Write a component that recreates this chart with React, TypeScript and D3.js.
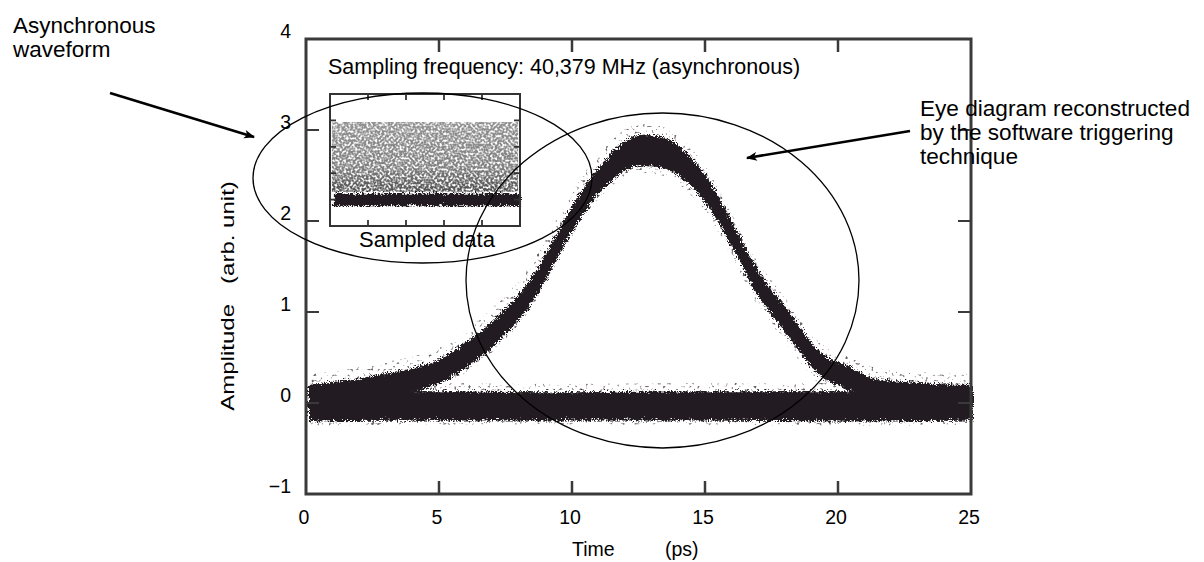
import React from "react";
import * as d3 from "d3";

// ---- data ----
const timeTicks = [0, 5, 10, 15, 20, 25];
const ampTicks = [-1, 0, 1, 2, 3, 4];

// eye-diagram pulse trace: time (ps), centre amplitude, half thickness of the scatter cloud
const pulseTime = [0, 1, 2.3, 3.5, 4.8, 6.0, 7.3, 8.5, 9.2, 10.0, 11.3, 12.5, 13.4, 14.2, 15.1, 15.9, 16.8, 18.1, 19.3, 20.3, 21.2, 23.1, 25];
const pulseCentre = [0.09, 0.12, 0.18, 0.25, 0.35, 0.56, 0.88, 1.3, 1.66, 2.08, 2.58, 2.8, 2.77, 2.62, 2.31, 1.9, 1.4, 0.88, 0.44, 0.3, 0.17, 0.11, 0.09];
const pulseHalf = [0.13, 0.13, 0.13, 0.13, 0.13, 0.14, 0.14, 0.14, 0.14, 0.14, 0.15, 0.17, 0.17, 0.16, 0.15, 0.14, 0.14, 0.14, 0.13, 0.13, 0.13, 0.13, 0.13];

// zero-level ("space") band of the eye diagram
const baseTime = [0, 5, 10, 15, 20, 25];
const baseUpper = [0.16, 0.15, 0.14, 0.15, 0.15, 0.16];
const baseLower = [-0.18, -0.17, -0.17, -0.17, -0.18, -0.17];

// inset: asynchronously sampled data (own 0..5 scale)
const insetTicks = [1, 2, 3, 4];
const insetNoiseTop = 3.94;
const insetNoiseBottom = 1.3;
const insetFloorTop = 1.3;
const insetFloorBottom = 0.82;

const W = 1204;
const H = 562;
const FONT = "'Liberation Sans', Arial, Helvetica, sans-serif";
const INK = "#231f20";

export default function App() {
  const x = d3.scaleLinear().domain([0, 25]).range([306, 971]);
  const y = d3.scaleLinear().domain([-1, 4]).range([494, 39]);

  const ix = d3.scaleLinear().domain([0, 5]).range([330, 520]);
  const iy = d3.scaleLinear().domain([0, 5]).range([226, 94]);

  const pulseArea = (extra: number) =>
    d3
      .area<number>()
      .x((_, i) => x(pulseTime[i]))
      .y0((_, i) => y(pulseCentre[i] - pulseHalf[i] - extra))
      .y1((_, i) => y(pulseCentre[i] + pulseHalf[i] + extra))
      .curve(d3.curveMonotoneX);

  const baseArea = (extra: number) =>
    d3
      .area<number>()
      .x((_, i) => x(baseTime[i]))
      .y0((_, i) => y(baseLower[i] - extra))
      .y1((_, i) => y(baseUpper[i] + extra))
      .curve(d3.curveMonotoneX);

  const tick = 13;
  const itick = 6;

  return (
    <svg
      width={W}
      height={H}
      style={{ position: "absolute", left: 0, top: 0, background: "#fff" }}
      fontFamily={FONT}
    >
      <defs>
        <filter id="rough" x="-5%" y="-20%" width="110%" height="140%">
          <feTurbulence type="turbulence" baseFrequency="0.45" numOctaves="2" seed="3" result="t" />
          <feDisplacementMap in="SourceGraphic" in2="t" scale="8" xChannelSelector="R" yChannelSelector="G" />
        </filter>
        <filter id="fringe" x="0" y="0" width="1" height="1">
          <feTurbulence type="fractalNoise" baseFrequency="0.35" numOctaves="1" seed="11" result="noise" />
          <feColorMatrix
            in="noise"
            type="matrix"
            values="0 0 0 0 0.14  0 0 0 0 0.12  0 0 0 0 0.13  7 0 0 0 -4.3"
            result="dots"
          />
          <feComposite in="dots" in2="SourceGraphic" operator="in" />
        </filter>
        <filter id="speckle" x="0" y="0" width="1" height="1">
          <feTurbulence type="fractalNoise" baseFrequency="0.45" numOctaves="1" seed="7" result="noise" />
          <feColorMatrix
            in="noise"
            type="matrix"
            values="0 0 0 0 0.08  0 0 0 0 0.08  0 0 0 0 0.08  3.6 0 0 0 -1.1"
            result="dots"
          />
          <feComposite in="dots" in2="SourceGraphic" operator="in" />
        </filter>
        <linearGradient id="noiseGrad" x1="0" y1="0" x2="0" y2="1">
          <stop offset="0" stopColor="#000" stopOpacity="0.62" />
          <stop offset="0.65" stopColor="#000" stopOpacity="0.72" />
          <stop offset="1" stopColor="#000" stopOpacity="1" />
        </linearGradient>
        <marker id="arrow" viewBox="0 0 10 10" refX="9" refY="5" markerWidth="18" markerHeight="11" markerUnits="userSpaceOnUse" orient="auto">
          <path d="M0,1 L10,5 L0,9 L2.5,5 Z" fill="#000" />
        </marker>
      </defs>

      {/* eye diagram data: scattered fringe + dense cloud */}
      <g filter="url(#fringe)">
        <path d={baseArea(0.07)(baseTime) || ""} fill={INK} />
        <path d={pulseArea(0.1)(pulseTime) || ""} fill={INK} />
      </g>
      <g filter="url(#rough)">
        <path d={baseArea(0)(baseTime) || ""} fill={INK} />
        <path d={pulseArea(0)(pulseTime) || ""} fill={INK} />
      </g>

      {/* frame */}
      <rect x={x(0)} y={y(4)} width={x(25) - x(0)} height={y(-1) - y(4)} fill="none" stroke="#3a3a3a" strokeWidth={3} />
      {timeTicks.slice(1, -1).map((t) => (
        <g key={"xt" + t} stroke="#3a3a3a" strokeWidth={2.5}>
          <line x1={x(t)} x2={x(t)} y1={y(-1)} y2={y(-1) - tick} />
          <line x1={x(t)} x2={x(t)} y1={y(4)} y2={y(4) + tick} />
        </g>
      ))}
      {ampTicks.slice(1, -1).map((a) => (
        <g key={"yt" + a} stroke="#3a3a3a" strokeWidth={2}>
          <line x1={x(0)} x2={x(0) + tick} y1={y(a)} y2={y(a)} />
          <line x1={x(25)} x2={x(25) - tick} y1={y(a)} y2={y(a)} />
        </g>
      ))}

      {/* tick labels */}
      {timeTicks.map((t) => (
        <text key={"xl" + t} x={x(t) - 2} y={524} fontSize={19.5} textAnchor="middle" fill="#000">
          {t}
        </text>
      ))}
      {ampTicks.map((a) => (
        <text key={"yl" + a} x={291} y={y(a) - 1} fontSize={19.5} textAnchor="end" fill="#000">
          {a < 0 ? "\u2212" + Math.abs(a) : a}
        </text>
      ))}

      {/* axis titles */}
      <text x={572} y={556} fontSize={19.5} fill="#000">Time</text>
      <text x={665} y={556} fontSize={19.5} fill="#000">(ps)</text>
      <text
        transform="translate(234,296) rotate(-90) scale(1.3,1)"
        fontSize={18.5}
        textAnchor="middle"
        fill="#000"
        style={{ whiteSpace: "pre" }}
      >
        {"Amplitude   (arb. unit)"}
      </text>

      {/* inset */}
      <rect x={ix(0)} y={iy(5)} width={ix(5) - ix(0)} height={iy(0) - iy(5)} fill="#fff" />
      <rect
        x={ix(0.05)}
        y={iy(insetNoiseTop)}
        width={ix(4.95) - ix(0.05)}
        height={iy(insetNoiseBottom) - iy(insetNoiseTop)}
        fill="url(#noiseGrad)"
        filter="url(#speckle)"
      />
      <rect
        x={ix(0.05)}
        y={iy(insetFloorTop)}
        width={ix(4.95) - ix(0.05)}
        height={iy(insetFloorBottom) - iy(insetFloorTop)}
        fill={INK}
        filter="url(#rough)"
      />
      <rect x={ix(0)} y={iy(5)} width={ix(5) - ix(0)} height={iy(0) - iy(5)} fill="none" stroke="#333" strokeWidth={2} />
      {insetTicks.map((t) => (
        <g key={"it" + t} stroke="#333" strokeWidth={1.8}>
          <line x1={ix(t)} x2={ix(t)} y1={iy(0)} y2={iy(0) - itick} />
          <line x1={ix(t)} x2={ix(t)} y1={iy(5)} y2={iy(5) + itick} />
          <line x1={ix(0)} x2={ix(0) + itick} y1={iy(t)} y2={iy(t)} />
          <line x1={ix(5)} x2={ix(5) - itick} y1={iy(t)} y2={iy(t)} />
        </g>
      ))}
      <text x={(ix(0) + ix(5)) / 2 + 2} y={247} fontSize={22} textAnchor="middle" fill="#000">
        Sampled data
      </text>

      {/* sampling frequency caption */}
      <text x={328} y={74} fontSize={21.5} fill="#000">
        Sampling frequency: 40,379 MHz (asynchronous)
      </text>

      {/* ellipses */}
      <ellipse cx={422.5} cy={178} rx={169.5} ry={85} fill="none" stroke="#000" strokeWidth={1.3} />
      <ellipse cx={662.5} cy={280.5} rx={196.5} ry={167.5} fill="none" stroke="#000" strokeWidth={1.3} />

      {/* annotations */}
      <text x={13} y={33} fontSize={22.5} fill="#000">Asynchronous</text>
      <text x={13} y={57} fontSize={22.5} fill="#000">waveform</text>
      <line x1={110} y1={93} x2={254} y2={137} stroke="#000" strokeWidth={2.6} markerEnd="url(#arrow)" />

      <text x={920} y={116} fontSize={22.6} fill="#000">Eye diagram reconstructed</text>
      <text x={920} y={140} fontSize={22.6} fill="#000">by the software triggering</text>
      <text x={920} y={164} fontSize={22.6} fill="#000">technique</text>
      <line x1={910} y1={131} x2={747} y2={158} stroke="#000" strokeWidth={2.6} markerEnd="url(#arrow)" />
    </svg>
  );
}
